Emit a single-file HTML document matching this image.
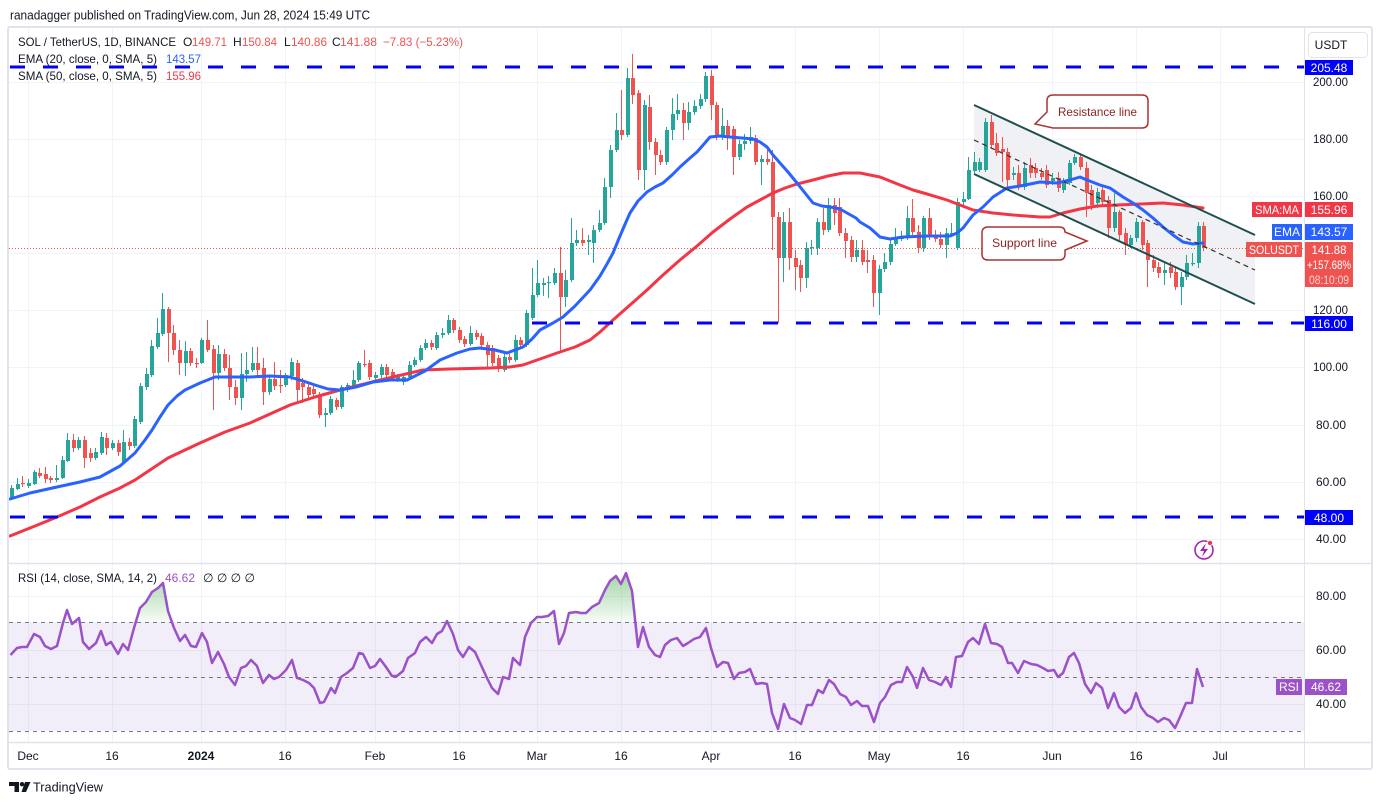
<!DOCTYPE html>
<html><head><meta charset="utf-8">
<style>
html,body{margin:0;padding:0;background:#fff;}
svg{display:block;}
text{font-family:"Liberation Sans",Arial,sans-serif;}
</style></head>
<body>
<svg id="c" width="1382" height="805" viewBox="0 0 1382 805" xmlns="http://www.w3.org/2000/svg">
<defs>
<linearGradient id="gg" x1="0" y1="570" x2="0" y2="622" gradientUnits="userSpaceOnUse">
<stop offset="0" stop-color="#4caf50" stop-opacity="0.55"/>
<stop offset="1" stop-color="#4caf50" stop-opacity="0.05"/>
</linearGradient>
<clipPath id="above70"><rect x="9" y="564" width="1295" height="58"/></clipPath>
<clipPath id="mainclip"><rect x="9" y="28" width="1295" height="535"/></clipPath>
</defs>
<rect width="1382" height="805" fill="#fff"/>
<text x="10" y="19.5" font-size="13" fill="#131722" textLength="360" lengthAdjust="spacingAndGlyphs">ranadagger published on TradingView.com, Jun 28, 2024 15:49 UTC</text>

<!-- grid -->
<g stroke="#f0f3fa" stroke-width="1">
<line x1="9" y1="82.5" x2="1304" y2="82.5"/>
<line x1="9" y1="139.5" x2="1304" y2="139.5"/>
<line x1="9" y1="196.5" x2="1304" y2="196.5"/>
<line x1="9" y1="253.5" x2="1304" y2="253.5"/>
<line x1="9" y1="310.5" x2="1304" y2="310.5"/>
<line x1="9" y1="367.5" x2="1304" y2="367.5"/>
<line x1="9" y1="425.5" x2="1304" y2="425.5"/>
<line x1="9" y1="482.5" x2="1304" y2="482.5"/>
<line x1="9" y1="539.5" x2="1304" y2="539.5"/>
<line x1="9" y1="596.5" x2="1304" y2="596.5"/>
<line x1="9" y1="650.5" x2="1304" y2="650.5"/>
<line x1="9" y1="704.5" x2="1304" y2="704.5"/>
<g id="vgrid"></g>
</g>

<!-- RSI band -->
<rect x="9" y="622" width="1295" height="109" fill="#7e57c2" fill-opacity="0.1"/>
<g stroke="#787b86" stroke-width="1" stroke-dasharray="4,4">
<line x1="9" y1="622.5" x2="1304" y2="622.5"/>
<line x1="9" y1="677.5" x2="1304" y2="677.5"/>
<line x1="9" y1="731.5" x2="1304" y2="731.5"/>
</g>

<!-- channel fill -->
<polygon points="974,105 1255,235 1255,304 974,174" fill="#eef0f3" fill-opacity="0.9"/>

<!-- price dotted line -->
<line x1="9" y1="248.5" x2="1304" y2="248.5" stroke="#ef5350" stroke-width="1" stroke-dasharray="1,2"/>

<g id="candles" clip-path="url(#mainclip)"></g>

<!-- SMA 50 -->
<polyline fill="none" stroke="#f23645" stroke-width="3" stroke-linejoin="round" stroke-linecap="round" points="10,536 35,526 57,517 80,507 100,497 120,488 135,480 150,470 168,458 185,450 200,443 225,432 250,423 270,414 290,405 315,397 340,390 380,380 423,370 450,369 490,368 510,367 523,365 540,359 557,353 575,347 590,340 600,332 613,320 630,305 647,290 663,275 680,260 697,246 713,232 730,219 747,207 760,200 773,193 785,188 797,184 813,180 828,176 843,173 860,173 880,177 900,185 913,190 927,194 947,200 960,205 973,210 993,213 1013,215 1040,217 1050,217 1063,213 1080,209 1097,206 1117,205 1140,204 1163,203 1183,205 1203,208"/>
<!-- EMA 20 -->
<polyline fill="none" stroke="#2962ff" stroke-width="3" stroke-linejoin="round" stroke-linecap="round" points="10,499 30,493 57,487 80,482 100,477 120,466 135,453 145,440 152,430 160,417 168,405 177,396 185,390 200,383 215,377 235,377 250,377 270,376 290,377 303,381 315,385 328,389 340,390 356,387 373,382 390,380 407,380 425,371 440,360 457,353 470,349 480,348 495,350 507,353 523,347 532,339 540,330 553,323 563,317 575,306 590,290 600,276 607,264 613,253 620,236 626,222 630,213 638,201 647,192 655,187 663,183 672,175 680,167 690,158 697,152 704,144 710,137 720,136 730,137 742,138 753,139 760,142 767,147 773,155 780,163 788,172 797,183 805,193 813,203 822,206 830,207 840,209 847,213 856,218 860,222 870,228 880,237 890,239 903,237 927,236 950,236 957,233 963,228 973,215 983,207 993,197 1007,188 1020,186 1040,182 1057,183 1070,180 1080,177 1087,180 1100,185 1110,188 1123,197 1133,203 1143,210 1153,218 1163,227 1173,235 1183,242 1193,244 1203,243"/>

<!-- channel lines -->
<line x1="974" y1="105" x2="1255" y2="235" stroke="#1e4f4f" stroke-width="2"/>
<line x1="974" y1="174" x2="1255" y2="304" stroke="#1e4f4f" stroke-width="2"/>
<line x1="974" y1="140" x2="1255" y2="270" stroke="#333" stroke-width="1.2" stroke-dasharray="5,4"/>

<!-- blue horizontal levels -->
<g stroke="#0000ff" stroke-width="3" stroke-dasharray="15,18">
<line x1="10" y1="67" x2="1304" y2="67"/>
<line x1="532" y1="323" x2="1304" y2="323"/>
<line x1="10" y1="517" x2="1304" y2="517"/>
</g>

<!-- callouts -->
<path d="M1053,95 H1142 Q1148,95 1148,101 V122 Q1148,128 1142,128 H1053 L1035,124 L1047,112 V101 Q1047,95 1053,95 Z" fill="#fff" stroke="#a93232" stroke-width="1.5"/>
<text x="1097.5" y="116" font-size="12" fill="#8e2424" text-anchor="middle" textLength="79" lengthAdjust="spacingAndGlyphs">Resistance line</text>
<path d="M988,227 H1059 Q1065,227 1065,232 L1087,241 L1065,250 V254 Q1065,260 1059,260 H988 Q982,260 982,254 V233 Q982,227 988,227 Z" fill="#fff" stroke="#a93232" stroke-width="1.5"/>
<text x="1024.5" y="247" font-size="12" fill="#8e2424" text-anchor="middle" textLength="65" lengthAdjust="spacingAndGlyphs">Support line</text>

<!-- RSI -->
<path id="rsifill" fill="url(#gg)" clip-path="url(#above70)" d=""/>
<polyline id="rsi" fill="none" stroke="#9b51c8" stroke-width="2.5" stroke-linejoin="round" points="10.5,655 17,648 22,647 27,647 34,634 40,637 45,646 51,649 57,646 63,623 67,610 72,624 79,618 83,642 89,649 96,643 101,631 106,645 111,642 118,654 123,644 128,650 134,628 140,608 146,602 152,592 158,588 163,583 168,611 174,628 180,641 185,635 191,646 196,647 202,633 207,642 212,663 218,652 224,664 229,677 235,685 241,668 246,666 251,660 257,666 263,683 269,675 274,679 279,677 286,670 292,660 297,678 303,680 309,683 314,688 320,703 324,702 331,688 335,693 341,677 347,673 353,668 359,653 363,654 370,668 375,666 380,659 386,667 392,676 397,676 403,671 408,658 415,653 420,642 426,637 432,643 437,634 442,631 447,621 453,634 458,650 463,657 469,647 475,652 481,665 487,678 492,688 498,694 503,677 509,679 513,658 520,665 525,637 531,623 537,617 542,617 548,616 554,611 559,644 564,633 569,613 576,612 581,613 586,613 592,607 599,603 605,590 610,581 616,576 621,584 626,573 632,591 638,647 643,627 649,647 655,655 660,657 665,645 671,640 677,638 683,646 688,643 694,639 700,637 706,628 711,648 717,667 723,662 728,663 734,679 739,673 745,672 750,669 756,684 762,683 767,684 772,713 778,729 784,704 790,718 795,720 801,724 807,705 812,705 818,690 823,693 829,680 834,684 840,694 846,697 851,705 857,701 862,706 868,706 874,722 880,703 885,697 891,685 897,682 902,682 907,667 913,677 917,688 923,668 929,680 935,682 941,685 946,677 951,687 956,657 962,656 968,642 973,638 979,644 985,624 991,643 997,644 1002,647 1008,663 1012,663 1018,673 1024,661 1031,664 1037,665 1043,668 1048,671 1054,670 1058,677 1063,673 1069,657 1074,653 1079,663 1085,684 1091,693 1096,683 1102,688 1108,708 1114,693 1119,707 1125,713 1131,708 1136,693 1141,707 1147,715 1153,718 1158,722 1164,718 1169,720 1175,728 1180,717 1186,703 1192,703 1197,669 1203,687"/>

<!-- lightning icon -->
<circle cx="1204" cy="550" r="9" fill="none" stroke="#9c27b0" stroke-width="1.6"/>
<path d="M1206,543 L1200,551 L1204,551 L1202,557 L1208,549 L1204,549 Z" fill="#9c27b0"/>
<circle cx="1210" cy="543" r="2.6" fill="#f23645" stroke="#fff" stroke-width="0.8"/>

<!-- frame & separators -->
<rect x="8" y="27" width="1364" height="742" fill="none" stroke="#e0e3eb" stroke-width="2" rx="2"/>
<line x1="1304.5" y1="28" x2="1304.5" y2="769" stroke="#e0e3eb" stroke-width="1"/>
<line x1="8" y1="563.5" x2="1372" y2="563.5" stroke="#e0e3eb" stroke-width="1.5"/>
<line x1="8" y1="742.5" x2="1372" y2="742.5" stroke="#e0e3eb" stroke-width="1.5"/>

<!-- legend -->
<g font-size="12">
<text x="18" y="46" fill="#131722" textLength="158" lengthAdjust="spacingAndGlyphs">SOL / TetherUS, 1D, BINANCE</text>
<text x="183" y="46" fill="#131722">O</text>
<text x="192" y="46" fill="#ef5350" textLength="35" lengthAdjust="spacingAndGlyphs">149.71</text>
<text x="233" y="46" fill="#131722">H</text>
<text x="242" y="46" fill="#ef5350" textLength="35" lengthAdjust="spacingAndGlyphs">150.84</text>
<text x="284" y="46" fill="#131722">L</text>
<text x="291" y="46" fill="#ef5350" textLength="36" lengthAdjust="spacingAndGlyphs">140.86</text>
<text x="332" y="46" fill="#131722">C</text>
<text x="340" y="46" fill="#ef5350" textLength="37" lengthAdjust="spacingAndGlyphs">141.88</text>
<text x="383" y="46" fill="#ef5350" textLength="80" lengthAdjust="spacingAndGlyphs">−7.83 (−5.23%)</text>
<text x="18" y="63" fill="#131722" textLength="139" lengthAdjust="spacingAndGlyphs">EMA (20, close, 0, SMA, 5)</text>
<text x="166" y="63" fill="#2962ff" textLength="35" lengthAdjust="spacingAndGlyphs">143.57</text>
<text x="18" y="80" fill="#131722" textLength="139" lengthAdjust="spacingAndGlyphs">SMA (50, close, 0, SMA, 5)</text>
<text x="166" y="80" fill="#f23645" textLength="35" lengthAdjust="spacingAndGlyphs">155.96</text>
<text x="18" y="582" fill="#131722" textLength="139" lengthAdjust="spacingAndGlyphs">RSI (14, close, SMA, 14, 2)</text>
<text x="165" y="582" fill="#9b51c8" textLength="30" lengthAdjust="spacingAndGlyphs">46.62</text>
<text x="203" y="582" fill="#131722" textLength="52" lengthAdjust="spacingAndGlyphs">∅ ∅ ∅ ∅</text>
</g>

<!-- right axis labels -->
<g font-size="12" fill="#131722">
<text x="1313" y="86" textLength="35" lengthAdjust="spacingAndGlyphs">200.00</text>
<text x="1313" y="143" textLength="35" lengthAdjust="spacingAndGlyphs">180.00</text>
<text x="1313" y="200" textLength="35" lengthAdjust="spacingAndGlyphs">160.00</text>
<text x="1313" y="257" textLength="35" lengthAdjust="spacingAndGlyphs">140.00</text>
<text x="1313" y="314" textLength="35" lengthAdjust="spacingAndGlyphs">120.00</text>
<text x="1313" y="371" textLength="35" lengthAdjust="spacingAndGlyphs">100.00</text>
<text x="1316" y="429" textLength="30" lengthAdjust="spacingAndGlyphs">80.00</text>
<text x="1316" y="486" textLength="30" lengthAdjust="spacingAndGlyphs">60.00</text>
<text x="1316" y="543" textLength="30" lengthAdjust="spacingAndGlyphs">40.00</text>
<text x="1316" y="600" textLength="30" lengthAdjust="spacingAndGlyphs">80.00</text>
<text x="1316" y="654" textLength="30" lengthAdjust="spacingAndGlyphs">60.00</text>
<text x="1316" y="708" textLength="30" lengthAdjust="spacingAndGlyphs">40.00</text>
</g>
<rect x="1308.5" y="32.5" width="59" height="25" rx="4" fill="#fff" stroke="#e0e3eb"/>
<text x="1331" y="49" font-size="12" fill="#131722" text-anchor="middle">USDT</text>

<g font-size="12" fill="#fff" text-anchor="middle">
<rect x="1305" y="60" width="48" height="15" fill="#0000ff"/>
<text x="1329" y="72">205.48</text>
<rect x="1305" y="316" width="48" height="15" fill="#0000ff"/>
<text x="1329" y="328">116.00</text>
<rect x="1305" y="510" width="48" height="15" fill="#0000ff"/>
<text x="1329" y="522">48.00</text>
<rect x="1252" y="202" width="50" height="15" fill="#f23645"/>
<text x="1277" y="214" textLength="44" lengthAdjust="spacingAndGlyphs">SMA:MA</text>
<rect x="1305" y="202" width="48" height="15" fill="#f23645"/>
<text x="1329" y="214">155.96</text>
<rect x="1272" y="224" width="30" height="16" fill="#2962ff"/>
<text x="1287" y="236">EMA</text>
<rect x="1305" y="224" width="48" height="16" fill="#2962ff"/>
<text x="1329" y="236">143.57</text>
<rect x="1246" y="242" width="56" height="15" fill="#ef5350"/>
<text x="1274" y="254" textLength="50" lengthAdjust="spacingAndGlyphs">SOLUSDT</text>
<rect x="1305" y="242" width="48" height="45" fill="#ef5350"/>
<text x="1329" y="254" textLength="35" lengthAdjust="spacingAndGlyphs">141.88</text>
<text x="1329" y="269" textLength="44" lengthAdjust="spacingAndGlyphs">+157.68%</text>
<text x="1329" y="284" fill-opacity="0.75" textLength="40" lengthAdjust="spacingAndGlyphs">08:10:09</text>
<rect x="1276" y="679" width="26" height="16" fill="#9b51c8"/>
<text x="1289" y="691">RSI</text>
<rect x="1305" y="679" width="42" height="16" fill="#9b51c8"/>
<text x="1326" y="691" textLength="30" lengthAdjust="spacingAndGlyphs">46.62</text>
</g>

<!-- time axis -->
<g font-size="12" fill="#131722" text-anchor="middle">
<text x="28" y="760">Dec</text>
<text x="112" y="760">16</text>
<text x="201" y="760" font-weight="bold">2024</text>
<text x="285" y="760">16</text>
<text x="375" y="760">Feb</text>
<text x="459" y="760">16</text>
<text x="537" y="760">Mar</text>
<text x="621" y="760">16</text>
<text x="711" y="760">Apr</text>
<text x="795" y="760">16</text>
<text x="879" y="760">May</text>
<text x="963" y="760">16</text>
<text x="1052" y="760">Jun</text>
<text x="1136" y="760">16</text>
<text x="1220" y="760">Jul</text>
</g>

<!-- logo -->
<g fill="#131722">
<path d="M9,782 H19 V792 H14.5 V786 H9 Z"/>
<circle cx="22" cy="784.2" r="2.2"/>
<path d="M25,782 H30.5 L26,792 H21.5 Z"/>
</g>
<text x="33" y="791.5" font-size="13" fill="#131722" textLength="70" lengthAdjust="spacingAndGlyphs">TradingView</text>
</svg>
<script>
(function(){
var ns='http://www.w3.org/2000/svg';
function el(n,a,p){var e=document.createElementNS(ns,n);for(var k in a)e.setAttribute(k,a[k]);p.appendChild(e);return e;}
var vg=document.getElementById('vgrid');
[28,112,201,285,375,459,537,621,711,795,879,963,1052,1136,1220].forEach(function(x){
 el('line',{x1:x+0.5,y1:28,x2:x+0.5,y2:563},vg);
 el('line',{x1:x+0.5,y1:564,x2:x+0.5,y2:742},vg);
});
var C=[
[498,488,485,500],[489,484,478,490],[483,484,476,487],[486,483,479,488],[484,472,470,485],
[473,476,468,478],[474,479,467,483],[478,480,476,483],[480,478,465,482],[478,460,456,479],
[461,440,433,462],[440,448,434,452],[448,440,437,450],[440,458,436,468],[453,458,448,462],
[458,452,448,460],[453,437,432,455],[438,448,433,455],[448,443,440,450],[443,452,440,456],
[462,442,430,464],[442,446,438,450],[446,419,416,448],[422,386,383,424],[387,374,368,390],
[375,346,340,377],[347,333,318,349],[334,309,293,336],[309,333,307,362],[333,350,325,355],
[350,363,340,375],[363,351,341,376],[351,363,348,366],[363,364,358,368],[363,340,338,364],
[340,350,320,352],[349,373,345,410],[373,354,345,380],[354,368,349,371],[368,387,355,400],
[387,398,380,405],[398,374,353,410],[374,370,352,382],[370,363,347,372],[363,370,347,376],
[368,392,358,405],[392,379,375,395],[379,386,362,390],[385,386,370,393],[385,375,373,387],
[376,362,358,380],[363,390,360,403],[383,387,378,403],[387,395,383,398],[389,394,386,397],
[395,415,392,418],[415,413,408,427],[413,399,396,415],[400,407,398,410],[407,387,385,409],
[390,385,383,392],[387,380,370,389],[380,363,361,382],[364,365,350,367],[363,377,360,380],
[378,375,372,381],[375,367,364,378],[367,375,364,378],[372,378,369,381],[380,377,374,382],
[382,377,373,385],[377,365,361,379],[365,360,357,367],[360,348,345,362],[348,343,339,350],
[343,347,340,350],[348,335,332,350],[335,333,328,338],[333,320,315,335],[320,330,318,333],
[330,340,327,343],[339,344,336,347],[344,333,326,346],[333,337,330,340],[336,345,333,350],
[345,355,342,367],[348,363,345,366],[358,368,355,372],[370,357,352,372],[357,360,354,363],
[360,340,335,362],[340,345,337,348],[345,313,310,347],[318,295,268,320],[295,283,260,297],
[285,283,278,296],[283,282,276,298],[283,273,268,285],[273,297,247,353],[297,280,270,307],
[280,243,218,282],[243,240,230,246],[240,243,228,246],[242,240,235,255],[243,230,225,263],
[230,223,210,232],[223,187,178,225],[187,150,145,198],[150,130,113,152],[130,135,90,140],
[135,78,68,137],[78,95,54,104],[93,170,90,180],[170,105,100,190],[107,142,95,150],
[142,155,138,175],[155,162,150,165],[162,130,127,165],[130,114,98,140],[114,110,94,120],
[110,123,103,140],[123,112,102,130],[112,106,100,115],[106,99,94,109],[99,76,72,102],
[76,105,70,120],[105,137,102,140],[137,126,108,140],[126,137,120,150],[129,157,126,175],
[157,144,140,160],[144,141,134,150],[141,137,127,144],[138,162,135,165],[162,159,155,185],
[159,162,150,165],[162,217,150,250],[217,258,212,323],[258,222,212,282],[222,258,208,270],
[258,267,250,290],[265,278,260,292],[278,248,242,288],[248,247,240,255],[248,222,218,255],
[222,230,208,235],[230,205,198,232],[205,213,198,225],[207,233,198,236],[233,241,228,258],
[240,257,236,262],[257,250,240,262],[250,262,240,265],[260,262,250,273],[260,293,255,307],
[293,269,265,315],[269,262,253,272],[262,244,240,265],[244,239,228,246],[239,237,231,241],
[238,218,206,240],[218,232,199,235],[232,248,225,253],[248,218,216,252],[218,237,208,240],
[237,239,230,242],[239,245,232,248],[245,233,228,258],[235,233,223,237],[248,202,198,250],
[202,199,192,206],[199,170,157,200],[171,162,152,173],[170,162,158,172],[170,122,118,172],
[122,145,115,148],[143,153,133,156],[149,152,137,182],[152,180,148,190],[175,173,167,180],
[173,187,165,190],[187,168,162,190],[165,173,158,178],[168,173,163,178],[173,177,168,180],
[170,185,165,188],[181,178,173,185],[178,188,172,192],[190,182,178,193],[183,163,160,185],
[163,157,154,165],[157,167,155,170],[168,193,162,217],[190,205,185,210],[203,192,188,208],
[190,202,185,206],[200,228,196,238],[228,212,193,232],[212,235,210,240],[233,245,228,255],
[245,238,235,248],[238,222,218,242],[222,245,220,250],[243,260,240,287],[260,268,255,272],
[267,273,262,278],[273,270,262,285],[267,273,262,278],[272,287,268,290],[287,277,272,305],
[277,263,255,280],[264,263,253,266],[263,226,222,268],[226,248,222,251]
];
var g=document.getElementById('candles');
for(var i=0;i<C.length;i++){
 var d=C[i],x=11.2+i*5.596,xr=Math.round(x),o=d[0],c=d[1];
 var t=Math.min(o,c),b=Math.max(o,c);
 var col=c<o?'#26a69a':'#ef5350';
 el('line',{x1:xr+0.5,y1:d[2],x2:xr+0.5,y2:d[3],stroke:col,'stroke-width':1},g);
 el('rect',{x:xr-1,y:t,width:4,height:Math.max(1.2,b-t),fill:col},g);
}
var pts=document.getElementById('rsi').getAttribute('points').trim().split(/\s+/);
var dd='M'+pts[0].split(',')[0]+',622';
for(var j=0;j<pts.length;j++){dd+=' L'+pts[j];}
dd+=' L'+pts[pts.length-1].split(',')[0]+',622 Z';
document.getElementById('rsifill').setAttribute('d',dd);
})();
</script>
</body></html>
